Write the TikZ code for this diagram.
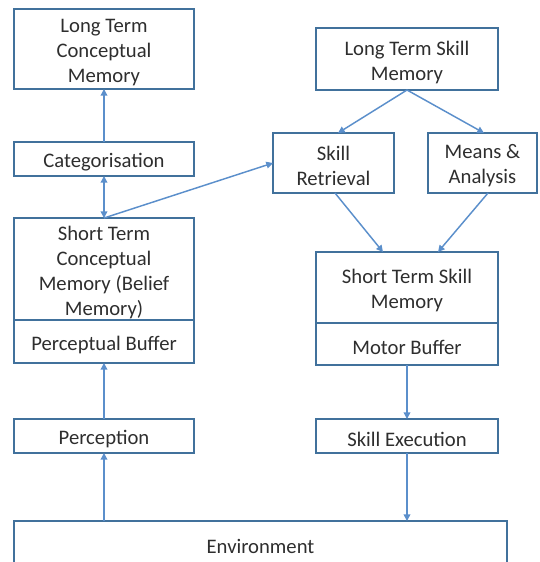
\documentclass[tikz,border=0pt]{standalone}
\usepackage{fontspec}
\setmainfont{Carlito}
\usetikzlibrary{arrows.meta}
\definecolor{boxline}{HTML}{41719C}
\definecolor{arrowline}{HTML}{5B8FCB}
\definecolor{txt}{HTML}{2E2E2E}
\tikzset{
  box/.style={draw=boxline, line width=1.9pt, inner sep=0pt, outer sep=0pt},
  label text/.style={inner sep=0pt, align=center, text=txt,
    font=\fontsize{15.5}{18.75}\selectfont},
  link/.style={draw=arrowline, line width=1.1pt, -{Triangle[length=5pt,width=5pt]}},
  biglink/.style={draw=arrowline, line width=1.1pt, {Triangle[length=5pt,width=5pt]}-{Triangle[length=5pt,width=5pt]}}
}
% \boxat{name}{left}{top}{right}{bottom}{text}: framed box, text set a little low
\newcommand{\boxat}[6]{%
  \node[box, minimum width={(#4-#2)*0.75pt}, minimum height={(#5-#3)*0.75pt}]
    (#1) at ({(#2+#4)/2},{(#3+#5)/2}) {};
  \node[label text] (#1-text) at ([yshift=-2.3pt]#1.center) {#6};}
\begin{document}
\begin{tikzpicture}[x=0.75pt,y=-0.75pt]
\useasboundingbox (0,0) rectangle (540,562);
% left column: conceptual side
\boxat{ltcm}{14}{9}{194}{89}{Long Term\\Conceptual\\Memory}
\boxat{cat}{14}{142}{194}{176}{Categorisation}
\boxat{stcm}{14}{218}{194}{320}{Short Term\\Conceptual\\Memory (Belief\\Memory)}
\boxat{pbuf}{14}{320}{194}{363}{Perceptual Buffer}
\boxat{perc}{14}{419}{194}{453}{Perception}
% right column: skill side
\boxat{ltsm}{316}{28}{498}{90}{Long Term Skill\\Memory}
\boxat{sret}{273}{133}{394}{193}{Skill\\Retrieval}
\boxat{mean}{428}{133}{537}{193}{Means \&\\Analysis}
\boxat{stsm}{316}{252}{498}{323}{Short Term Skill\\Memory}
\boxat{mbuf}{316}{323}{498}{365}{Motor Buffer}
\boxat{sexe}{316}{419}{498}{453}{Skill Execution}
% environment runs off the lower edge
\boxat{env}{14}{521}{507}{566}{Environment}

% connectors
\coordinate (envL) at (104,521);
\coordinate (envR) at (407,521);
\draw[link] (cat.north) -- (ltcm.south);
\draw[biglink] (cat.south) -- (stcm.north);
\draw[link] (stcm.north) -- (sret.west);
\draw[link] (perc.north) -- (pbuf.south);
\draw[link] (envL) -- (perc.south);
\draw[link] (ltsm.south) -- (338,133) coordinate (sretIn);
\draw[link] (ltsm.south) -- (484,133) coordinate (meanIn);
\draw[link] (335,193) -- (383,252);
\draw[link] (488,193) -- (438,252);
\draw[link] (mbuf.south) -- (sexe.north);
\draw[link] (sexe.south) -- (envR);
\end{tikzpicture}
\end{document}
